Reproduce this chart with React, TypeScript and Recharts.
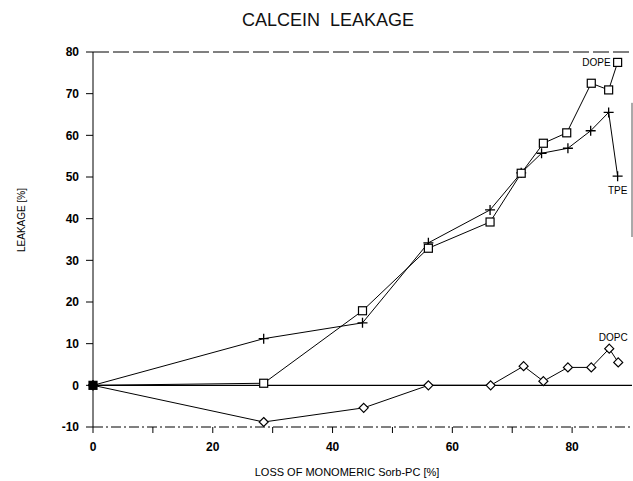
import { LineChart, Line, XAxis, YAxis, ReferenceLine, Label } from "recharts";

// x = loss of monomeric Sorb-PC [%], y = leakage [%]
const dopeX = [0, 28.5, 45, 56, 66.3, 71.5, 75.2, 79.1, 83.2, 86.1, 87.6];
const dopeY = [0, 0.5, 17.9, 32.9, 39.2, 50.9, 58.1, 60.6, 72.5, 70.9, 77.5];
const tpeX = [0, 28.5, 45, 56, 66.3, 71.5, 74.9, 79.3, 83.1, 86.1, 87.6];
const tpeY = [0, 11.2, 15, 34.2, 42.1, 51, 55.7, 56.9, 61.1, 65.5, 50.2];
const dopcX = [0, 28.5, 45.2, 56, 66.4, 71.9, 75.2, 79.3, 83.2, 86.2, 87.7];
const dopcY = [0, -8.8, -5.4, 0, 0, 4.6, 1, 4.3, 4.3, 8.8, 5.5];

const xTicks = [0, 10, 20, 30, 40, 50, 60, 70, 80];
const yTicks = [-10, 0, 10, 20, 30, 40, 50, 60, 70, 80];

const toRows = (xs: number[], ys: number[]) => xs.map((x, i) => ({ x, y: ys[i] }));

const dope = toRows(dopeX, dopeY);
const tpe = toRows(tpeX, tpeY);
const dopc = toRows(dopcX, dopcY);

const FONT = "'Liberation Sans', Arial, sans-serif";

const SquareDot = (p: any) => {
  if (p.cx == null || p.cy == null) return <g key={`s-${p.index}`} />;
  const s = 4;
  return (
    <rect
      key={`s-${p.index}`}
      x={p.cx - s}
      y={p.cy - s}
      width={s * 2}
      height={s * 2}
      fill={p.index === 0 ? "#000" : "#fff"}
      stroke="#000"
      strokeWidth={1.2}
    />
  );
};

const PlusDot = (p: any) => {
  if (p.cx == null || p.cy == null) return <g key={`p-${p.index}`} />;
  const s = 5;
  return (
    <path
      key={`p-${p.index}`}
      d={`M${p.cx - s},${p.cy}H${p.cx + s}M${p.cx},${p.cy - s}V${p.cy + s}`}
      stroke="#000"
      strokeWidth={1.3}
    />
  );
};

const DiamondDot = (p: any) => {
  if (p.cx == null || p.cy == null) return <g key={`d-${p.index}`} />;
  const s = 4.5;
  return (
    <path
      key={`d-${p.index}`}
      d={`M${p.cx},${p.cy - s}L${p.cx + s},${p.cy}L${p.cx},${p.cy + s}L${p.cx - s},${p.cy}Z`}
      fill="#fff"
      stroke="#000"
      strokeWidth={1.2}
    />
  );
};

const pointLabel = (text: string, idx: number, dx: number, dy: number, anchor: string) => (p: any) => {
  if (p.index !== idx) return <g key={`l-${text}-${p.index}`} />;
  return (
    <text
      key={`l-${text}-${p.index}`}
      x={p.x + dx}
      y={p.y + dy}
      textAnchor={anchor}
      fontFamily={FONT}
      fontSize={10}
      fill="#000"
    >
      {text}
    </text>
  );
};

export default function App() {
  return (
    <div style={{ position: "absolute", left: 0, top: 0, width: 633, height: 481, background: "#fff" }}>
      <div
        style={{
          position: "absolute",
          left: 242,
          top: 11,
          fontFamily: FONT,
          fontSize: 18,
          lineHeight: "18px",
          whiteSpace: "pre",
          color: "#111",
        }}
      >
        {"CALCEIN  LEAKAGE"}
      </div>
      <LineChart width={633} height={481} margin={{ top: 52, right: 1, left: 0, bottom: 24 }}>
        <XAxis
          type="number"
          dataKey="x"
          domain={[0, 90]}
          ticks={xTicks}
          allowDuplicatedCategory={false}
          tickFormatter={(v: number) => (v % 20 === 0 ? String(v) : "")}
          tick={{ fontFamily: FONT, fontSize: 12, fontWeight: "bold", fill: "#000" }}
          tickSize={6}
          tickMargin={9}
          height={30}
          axisLine={{ stroke: "#000", strokeDasharray: "10 3 2 3" }}
          tickLine={{ stroke: "#000" }}
        >
          <Label
            content={() => (
              <text x={347} y={476} textAnchor="middle" fontFamily={FONT} fontSize={11} fill="#000">
                LOSS OF MONOMERIC Sorb-PC [%]
              </text>
            )}
          />
        </XAxis>
        <YAxis
          type="number"
          domain={[-10, 80]}
          ticks={yTicks}
          width={93}
          tick={{ fontFamily: FONT, fontSize: 12, fontWeight: "bold", fill: "#000" }}
          tickSize={7}
          tickMargin={7}
          axisLine={{ stroke: "#000" }}
          tickLine={{ stroke: "#000" }}
        >
          <Label
            content={() => (
              <text
                x={21}
                y={220}
                transform="rotate(-90 21 220)"
                textAnchor="middle"
                dominantBaseline="central"
                fontFamily={FONT}
                fontSize={10}
                fill="#000"
              >
                LEAKAGE [%]
              </text>
            )}
          />
        </YAxis>
        <ReferenceLine y={80} stroke="#000" strokeDasharray="16 4" />
        <ReferenceLine y={0} stroke="#000" strokeWidth={1.2} />
        <ReferenceLine
          segment={[
            { x: 90, y: 67.8 },
            { x: 90, y: 35.6 },
          ]}
          stroke="#555"
          strokeWidth={1}
        />
        <Line
          data={dopc}
          dataKey="y"
          type="linear"
          stroke="#000"
          strokeWidth={1}
          dot={DiamondDot}
          label={pointLabel("DOPC", 9, 4, -8, "middle")}
          isAnimationActive={false}
        />
        <Line
          data={tpe}
          dataKey="y"
          type="linear"
          stroke="#000"
          strokeWidth={1}
          dot={PlusDot}
          label={pointLabel("TPE", 10, 0, 18, "middle")}
          isAnimationActive={false}
        />
        <Line
          data={dope}
          dataKey="y"
          type="linear"
          stroke="#000"
          strokeWidth={1}
          dot={SquareDot}
          label={pointLabel("DOPE", 10, -7, 4, "end")}
          isAnimationActive={false}
        />
      </LineChart>
    </div>
  );
}
